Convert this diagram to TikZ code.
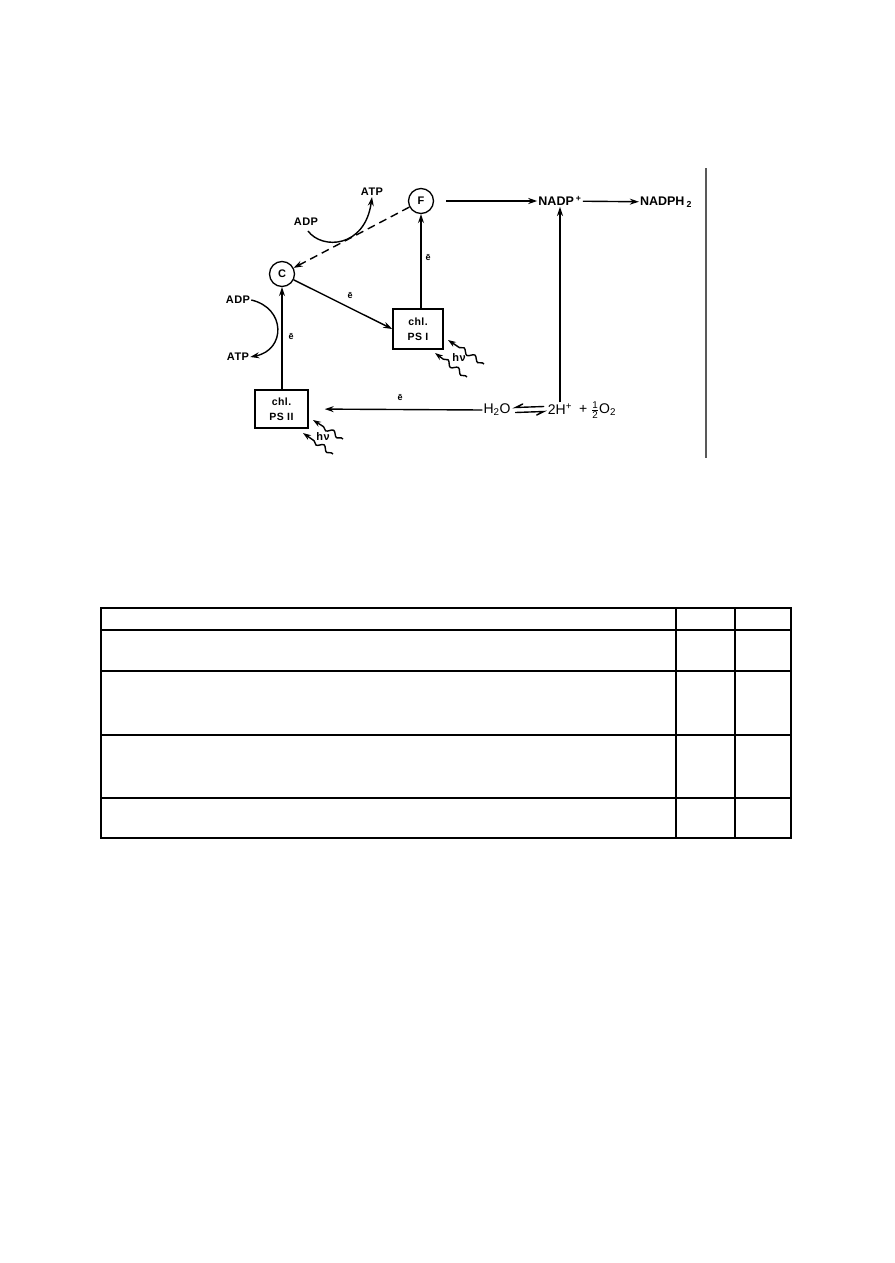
\documentclass[tikz,border=0pt]{standalone}
\usepackage{fontspec}
\usepackage{amsmath}
\setmainfont{Liberation Sans}
\newfontfamily\lblfont[LetterSpace=4]{Liberation Sans}
\usetikzlibrary{arrows.meta,decorations.pathmorphing,calc}
\tikzset{
  arr/.style={line width=1.4pt, -{Stealth[length=9pt,width=6pt]}},
  lbl/.style={font=\lblfont\bfseries\fontsize{11}{12}\selectfont, inner sep=1pt},
  chem/.style={font=\fontsize{14}{16}\selectfont, inner sep=1pt},
  chemb/.style={font=\bfseries\fontsize{12.5}{15}\selectfont, inner sep=1pt},
  circnode/.style={circle, draw, line width=1.3pt, minimum size=25pt, inner sep=0pt, font=\bfseries\fontsize{11}{12}\selectfont},
  boxnode/.style={draw, line width=1.5pt, align=center, inner sep=1pt, font=\lblfont\bfseries\fontsize{10.5}{15}\selectfont},
  wave/.style={line width=1.4pt, decorate, decoration={snake, amplitude=2.4pt, segment length=13pt, pre length=2pt, post length=8pt}, -{Stealth[length=8pt,width=5.5pt]}},
  elabel/.style={font=\bfseries\fontsize{9}{10}\selectfont, inner sep=1pt},
  harp/.style={line width=1.4pt, line cap=round},
  tabline/.style={line width=1.4pt},
}
\begin{document}
\begin{tikzpicture}[x=1pt,y=-1pt]
\fill[white] (0,0) rectangle (894,1263);
\useasboundingbox (0,0) rectangle (894,1263);

% nodes
\node[circnode] (F) at (421,201) {F};
\node[circnode] (C) at (282,274) {C};
\node[chemb] (nadp) at (560,201) {NADP\,\textsuperscript{+}};
\node[chemb] (nadph) at (666,202) {NADPH\,\textsubscript{2}};
\node[boxnode, minimum width=50pt, minimum height=40pt] (ps1) at (418,329) {chl.\\PS I};
\node[boxnode, minimum width=53pt, minimum height=38pt] (ps2) at (281.5,409) {chl.\\PS II};
\node[chem] (h2o) at (497,410) {H\textsubscript{2}O};
\node[chem] (h2p) at (560,409) {2H\textsuperscript{+}};
\node[chem, anchor=west] (o2) at (578,410) {+ $\tfrac{\text{1}}{\text{2}}$O\textsubscript{2}};

\node[lbl] (adp2) at (306,222) {ADP};
\node[lbl] (atp2) at (372,192) {ATP};
\node[lbl] (adp1) at (238,300) {ADP};
\node[lbl] (atp1) at (238,357) {ATP};

% electron labels
\node[elabel] (e1) at (428,258) {ē};
\node[elabel] (e2) at (350,296) {ē};
\node[elabel] (e3) at (291,337) {ē};
\node[elabel] (e4) at (400,398) {ē};

% connectors
\draw[arr, shorten <=12pt] (F) -- (nadp);
\draw[arr] (nadp) -- (nadph);
\draw[arr] (ps1.north -| F) -- (F.south);
\draw[arr, dash pattern=on 8pt off 5pt] (F) -- (C);
\draw[arr] (C) -- (ps1.west);
\draw[arr] (ps2.north -| C) -- (C.south);
\draw[arr, shorten >=16pt] (h2o.west) -- (ps2.east);
\draw[arr] (h2p.north) -- (h2p.north |- nadp.south);

% equilibrium harpoons
\draw[harp] ($(h2p.west)+(-3,-2.5)$) -- ($(h2o.east)+(4,-2.5)$) -- ++(7,-3.5);
\draw[harp] ($(h2o.east)+(4,2.5)$) -- ($(h2p.west)+(-3,2.5)$) -- ++(-7,3.5);

% ADP -> ATP curves
\draw[arr] ($(adp2.south)+(2,4)$) .. controls (322,250) and (365,248) .. (atp2.south);
\draw[arr] (adp1.east) .. controls (286,308) and (286,350) .. (atp1.east);

% light (h nu)
\coordinate (p1a) at (484,364); \coordinate (p1b) at (448,340);
\coordinate (p1c) at (467,377); \coordinate (p1d) at (435,353);
\draw[wave] (p1a) -- (p1b);
\draw[wave] (p1c) -- (p1d);
\node[lbl] (hv1) at (459,358) {hν};

\coordinate (p2a) at (343,439); \coordinate (p2b) at (313,420);
\coordinate (p2c) at (333,454); \coordinate (p2d) at (303,433);
\draw[wave] (p2a) -- (p2b);
\draw[wave] (p2c) -- (p2d);
\node[lbl] (hv2) at (323,437) {hν};

% right border line
\coordinate (r1) at (706,168); \coordinate (r2) at (706,458);
\draw[line width=1.2pt, black!65] (r1) -- (r2);

% table
\draw[tabline] (101,608) rectangle (791,838);
\foreach \yy in {630,671,735,798} \draw[tabline] (101,\yy) -- (791,\yy);
\foreach \xx in {676,735} \draw[tabline] (\xx,608) -- (\xx,838);
\end{tikzpicture}
\end{document}
